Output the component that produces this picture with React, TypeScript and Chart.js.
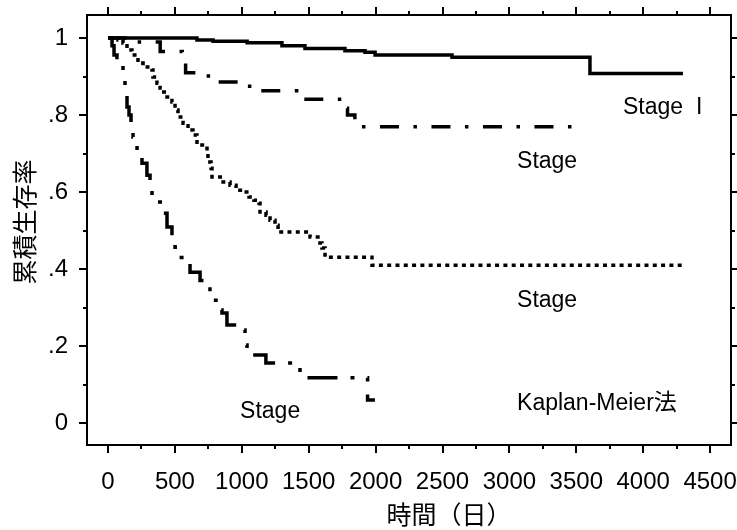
import React, { useEffect, useRef } from 'react';
import { Chart, registerables } from 'chart.js';

Chart.register(...registerables);

// ---- Data ----
const stage1Time = [0, 665, 785, 1040, 1300, 1472, 1771, 1921, 1996, 2571, 3602, 4297];
const stage1Surv = [1, 0.995, 0.992, 0.988, 0.98, 0.973, 0.967, 0.963, 0.956, 0.95, 0.908, 0.908];

const stage2Time = [0, 150, 390, 555, 580, 750, 985, 1075, 1410, 1755, 1790, 1845, 3543];
const stage2Surv = [1, 0.99, 0.965, 0.935, 0.91, 0.886, 0.875, 0.863, 0.841, 0.818, 0.8, 0.77, 0.77];

const stage3Time = [0, 75, 112, 142, 179, 224, 262, 329, 336, 366, 389, 441, 478, 501, 523, 561, 598, 635, 665, 740, 747, 770, 777, 860, 912, 957, 1009, 1054, 1091, 1129, 1136, 1181, 1211, 1248, 1271, 1510, 1584, 1599, 1622, 1973, 4290];
const stage3Surv = [1, 0.995, 0.987, 0.969, 0.956, 0.935, 0.925, 0.917, 0.899, 0.883, 0.86, 0.847, 0.834, 0.813, 0.795, 0.779, 0.761, 0.748, 0.722, 0.701, 0.678, 0.662, 0.639, 0.626, 0.618, 0.605, 0.6, 0.587, 0.579, 0.571, 0.548, 0.54, 0.527, 0.514, 0.496, 0.483, 0.468, 0.455, 0.431, 0.41, 0.41];

const stage4Time = [0, 30, 45, 67, 112, 127, 142, 157, 172, 187, 217, 254, 291, 314, 329, 351, 404, 441, 478, 501, 520, 613, 688, 762, 785, 807, 830, 852, 889, 972, 1024, 1039, 1180, 1435, 1940, 1995];
const stage4Surv = [1, 0.98, 0.956, 0.938, 0.904, 0.865, 0.821, 0.8, 0.774, 0.743, 0.709, 0.675, 0.644, 0.618, 0.592, 0.574, 0.545, 0.509, 0.483, 0.457, 0.43, 0.392, 0.37, 0.34, 0.319, 0.306, 0.294, 0.286, 0.255, 0.242, 0.203, 0.177, 0.156, 0.118, 0.06, 0.06];

const xTickValues = [0, 500, 1000, 1500, 2000, 2500, 3000, 3500, 4000, 4500];
const xTickLabels = ['0', '500', '1000', '1500', '2000', '2500', '3000', '3500', '4000', '4500'];
const xMinorTicks = [250, 750, 1250, 1750, 2250, 2750, 3250, 3750, 4250];
const yTickValues = [0, 0.2, 0.4, 0.6, 0.8, 1];
const yTickLabels = ['0', '.2', '.4', '.6', '.8', '1'];
const yMinorTicks = [0.1, 0.3, 0.5, 0.7, 0.9];

const xAxisTitle = '時間（日）';
const yAxisTitle = '累積生存率';

const noteTexts = ['Stage  I', 'Stage', 'Stage', 'Kaplan-Meier法', 'Stage'];
const noteAtTime = [3849, 3057, 3057, 3057, 987];
const noteAtSurv = [0.804, 0.662, 0.301, 0.034, 0.012];

// ---- Styles ----
const LATIN = "'Liberation Sans', Arial, 'Noto Sans CJK JP', sans-serif";
const CJK = "'Noto Sans CJK JP', 'Noto Sans CJK SC', sans-serif";

const toPoints = (t: number[], s: number[]) => t.map((x, i) => ({ x, y: s[i] }));

const frameAndNotes = {
  id: 'frameAndNotes',
  afterDraw(chart: any) {
    const ctx = chart.ctx as CanvasRenderingContext2D;
    const { left, right, top, bottom } = chart.chartArea;
    const xs = chart.scales.x;
    const ys = chart.scales.y;
    ctx.save();
    ctx.strokeStyle = '#000';
    ctx.lineWidth = 2;
    ctx.lineCap = 'butt';
    ctx.strokeRect(left, top, right - left, bottom - top);

    const MAJOR = 8;
    const MINOR = 4;
    ctx.beginPath();
    const xTick = (v: number, len: number) => {
      const p = Math.round(xs.getPixelForValue(v));
      ctx.moveTo(p, bottom);
      ctx.lineTo(p, bottom + len);
      ctx.moveTo(p, top);
      ctx.lineTo(p, top - len);
    };
    const yTick = (v: number, len: number) => {
      const p = Math.round(ys.getPixelForValue(v));
      ctx.moveTo(left, p);
      ctx.lineTo(left - len, p);
      ctx.moveTo(right, p);
      ctx.lineTo(right + len, p);
    };
    xTickValues.forEach((v) => xTick(v, MAJOR));
    xMinorTicks.forEach((v) => xTick(v, MINOR));
    yTickValues.forEach((v) => yTick(v, MAJOR));
    yMinorTicks.forEach((v) => yTick(v, MINOR));
    ctx.stroke();

    // in-plot notes
    ctx.fillStyle = '#000';
    ctx.font = `23px ${LATIN}`;
    ctx.textAlign = 'left';
    ctx.textBaseline = 'alphabetic';
    noteTexts.forEach((txt, i) => {
      ctx.fillText(txt, xs.getPixelForValue(noteAtTime[i]), ys.getPixelForValue(noteAtSurv[i]));
    });

    // axis titles
    ctx.font = `25px ${CJK}`;
    ctx.textAlign = 'center';
    ctx.textBaseline = 'middle';
    ctx.fillText(xAxisTitle, (left + right) / 2 + 40, bottom + 69);
    ctx.translate(24, (top + bottom) / 2 - 8);
    ctx.rotate(-Math.PI / 2);
    ctx.fillText(yAxisTitle, 0, 0);
    ctx.restore();
  },
};

export default function App() {
  const ref = useRef<HTMLCanvasElement | null>(null);

  useEffect(() => {
    if (!ref.current) return;
    const common = {
      borderColor: '#000',
      backgroundColor: '#000',
      borderWidth: 3.5,
      pointRadius: 0,
      fill: false,
      stepped: 'before' as const,
      borderCapStyle: 'butt' as const,
      borderJoinStyle: 'miter' as const,
    };
    const chart = new Chart(ref.current, {
      type: 'line',
      data: {
        datasets: [
          { ...common, label: 'Stage I', data: toPoints(stage1Time, stage1Surv), borderDash: [] },
          { ...common, label: 'Stage II', data: toPoints(stage2Time, stage2Surv), borderDash: [19, 14.5, 3.5, 14.5] },
          { ...common, label: 'Stage III', data: toPoints(stage3Time, stage3Surv), borderDash: [4, 4.3] },
          { ...common, label: 'Stage IV', data: toPoints(stage4Time, stage4Surv), borderDash: [30, 13, 4, 13, 4, 13] },
        ],
      },
      options: {
        animation: false,
        responsive: false,
        maintainAspectRatio: false,
        devicePixelRatio: 1,
        events: [],
        layout: { padding: { top: 15, right: 6, left: 0, bottom: 0 }, autoPadding: false },
        plugins: {
          legend: { display: false },
          tooltip: { enabled: false },
          title: { display: false },
        },
        scales: {
          x: {
            type: 'linear',
            position: 'bottom',
            min: -157,
            max: 4656,
            afterBuildTicks: (axis: any) => {
              axis.ticks = xTickValues.map((value) => ({ value }));
            },
            afterFit: (axis: any) => {
              axis.height = 85;
            },
            ticks: {
              autoSkip: false,
              maxRotation: 0,
              padding: 0,
              color: '#000',
              font: { family: LATIN, size: 24 },
              callback: (_v: any, i: number) => xTickLabels[i],
            },
            grid: { display: true, drawOnChartArea: false, drawTicks: true, tickLength: 23, tickColor: 'rgba(0,0,0,0)' },
            border: { display: false },
          },
          y: {
            type: 'linear',
            position: 'left',
            min: -0.057,
            max: 1.06,
            afterBuildTicks: (axis: any) => {
              axis.ticks = yTickValues.map((value) => ({ value }));
            },
            afterFit: (axis: any) => {
              axis.width = 87;
            },
            ticks: {
              autoSkip: false,
              padding: 0,
              color: '#000',
              font: { family: LATIN, size: 24 },
              callback: (_v: any, i: number) => yTickLabels[i],
            },
            grid: { display: true, drawOnChartArea: false, drawTicks: true, tickLength: 19, tickColor: 'rgba(0,0,0,0)' },
            border: { display: false },
          },
        },
      } as any,
      plugins: [frameAndNotes],
    });
    return () => chart.destroy();
  }, []);

  return (
    <div style={{ position: 'absolute', left: 0, top: 0, width: 737, height: 530, background: '#fff' }}>
      <canvas ref={ref} width={737} height={530} style={{ display: 'block', width: 737, height: 530 }} />
    </div>
  );
}
